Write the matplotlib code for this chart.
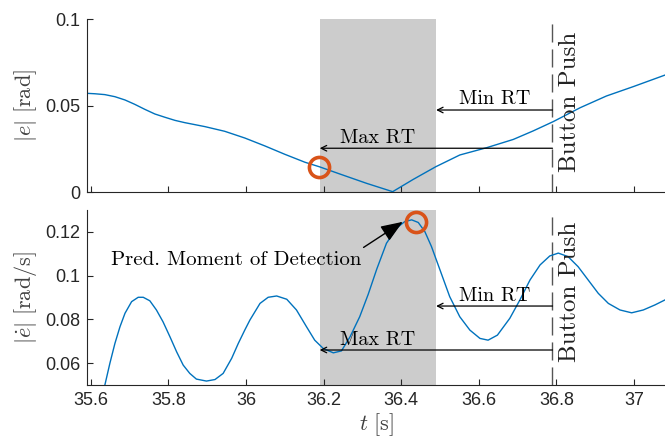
import matplotlib
matplotlib.use("Agg")
import matplotlib.pyplot as plt
from matplotlib.ticker import FuncFormatter

plt.rcParams['mathtext.fontset'] = 'cm'
plt.rcParams['font.family'] = ['Liberation Sans', 'DejaVu Sans']

# |e|
t_e = [35.585, 35.610, 35.636, 35.662, 35.688, 35.713, 35.739, 35.765, 35.791,
       35.817, 35.842, 35.894, 35.945, 35.997, 36.049, 36.100, 36.152, 36.189,
       36.242, 36.311, 36.378, 36.431, 36.489, 36.551, 36.620, 36.689, 36.740,
       36.792, 36.861, 36.929, 36.998, 37.080]
e_abs = [0.0571, 0.0568, 0.0563, 0.0551, 0.0532, 0.0507, 0.0478, 0.0451, 0.0432,
         0.0414, 0.0401, 0.0378, 0.0351, 0.0312, 0.0266, 0.0218, 0.0172, 0.0146,
         0.0104, 0.0050, 0.0002, 0.0073, 0.0146, 0.0214, 0.0256, 0.0304, 0.0353,
         0.0407, 0.0487, 0.0555, 0.0609, 0.0676]

# |e dot|
t_ed = [35.636, 35.649, 35.662, 35.675, 35.688, 35.705, 35.722, 35.735, 35.752,
        35.769, 35.786, 35.804, 35.821, 35.838, 35.855, 35.872, 35.898, 35.920,
        35.941, 35.963, 35.980, 35.997, 36.010, 36.036, 36.057, 36.079, 36.105,
        36.130, 36.156, 36.177, 36.199, 36.225, 36.246, 36.268, 36.293, 36.315,
        36.337, 36.362, 36.388, 36.409, 36.427, 36.444, 36.461, 36.478, 36.500,
        36.525, 36.551, 36.577, 36.603, 36.624, 36.648, 36.680, 36.706, 36.732,
        36.758, 36.783, 36.805, 36.830, 36.856, 36.882, 36.908, 36.934, 36.964,
        36.994, 37.024, 37.054, 37.080]
ed_abs = [0.0499, 0.0599, 0.0690, 0.0766, 0.0828, 0.0881, 0.0901, 0.0901, 0.0885,
          0.0843, 0.0789, 0.0720, 0.0652, 0.0591, 0.0553, 0.0527, 0.0518, 0.0525,
          0.0553, 0.0622, 0.0690, 0.0752, 0.0797, 0.0873, 0.0901, 0.0907, 0.0892,
          0.0843, 0.0766, 0.0705, 0.0667, 0.0647, 0.0656, 0.0720, 0.0812, 0.0915,
          0.1030, 0.1148, 0.1217, 0.1247, 0.1255, 0.1243, 0.1201, 0.1133, 0.1026,
          0.0904, 0.0812, 0.0751, 0.0713, 0.0705, 0.0728, 0.0805, 0.0889, 0.0980,
          0.1049, 0.1090, 0.1103, 0.1087, 0.1041, 0.0980, 0.0919, 0.0873, 0.0843,
          0.0830, 0.0843, 0.0866, 0.0889]

t_push = 36.79
min_rt = 0.3
max_rt = 0.6
t_detect_e, e_detect = 36.189, 0.0146
t_detect_ed, ed_detect = 36.437, 0.1247

blue = '#0072BD'
orange = '#D95319'
dark = '#262626'

fig = plt.figure(figsize=(6.65, 4.4), dpi=100)
ax1 = fig.add_axes([0.1308, 0.5636, 0.8692, 0.3932])
ax2 = fig.add_axes([0.1308, 0.125, 0.8692, 0.3977])

def fmt(v, pos):
  s = ('%.3f' % v).rstrip('0').rstrip('.')
  return s

for ax in (ax1, ax2):
  ax.axvspan(t_push - max_rt, t_push - min_rt, color='#cccccc', lw=0, zorder=0)
  ax.axvline(t_push, color='#555555', lw=1, dashes=(13, 5), zorder=1)
  ax.set_xlim(35.59, 37.08)
  ax.set_xticks([35.6, 35.8, 36, 36.2, 36.4, 36.6, 36.8, 37])
  for s in ('top', 'right'):
    ax.spines[s].set_visible(False)
  for s in ('left', 'bottom'):
    ax.spines[s].set_color(dark)
    ax.spines[s].set_linewidth(0.8)
  ax.tick_params(direction='in', length=4, width=0.8, colors=dark,
                 labelsize=13, pad=5)
  ax.yaxis.set_major_formatter(FuncFormatter(fmt))
  ax.xaxis.set_major_formatter(FuncFormatter(fmt))

# top panel
ax1.plot(t_e, e_abs, color=blue, lw=1, zorder=2)
ax1.plot(t_detect_e, e_detect, 'o', mfc='none', mec=orange, ms=14.5, mew=2.6,
         zorder=3, clip_on=False)
ax1.set_ylim(0, 0.1)
ax1.set_yticks([0, 0.05, 0.1])
ax1.tick_params(labelbottom=False)
ax1.set_ylabel(r'$|e|\ [\mathrm{rad}]$', fontsize=16, color='#404040', labelpad=4)

y_min1, y_max1 = 0.0474, 0.0253
ax1.annotate('', xy=(t_push - min_rt, y_min1), xytext=(t_push, y_min1),
             arrowprops=dict(arrowstyle='->', color='k', lw=0.9, shrinkA=0, shrinkB=0))
ax1.annotate('', xy=(t_push - max_rt, y_max1), xytext=(t_push, y_max1),
             arrowprops=dict(arrowstyle='->', color='k', lw=0.9, shrinkA=0, shrinkB=0))
ax1.text(36.64, y_min1 + 0.001, 'Min RT', family='cmr10', fontsize=14.5,
         ha='center', va='bottom')
ax1.text(36.34, y_max1 + 0.001, 'Max RT', family='cmr10', fontsize=14.5,
         ha='center', va='bottom')
ax1.text(36.835, 0.052, 'Button Push', family='cmr10', fontsize=18,
         rotation=90, ha='center', va='center', color='#222222')

# bottom panel
ax2.plot(t_ed, ed_abs, color=blue, lw=1, zorder=2)
ax2.plot(t_detect_ed, ed_detect, 'o', mfc='none', mec=orange, ms=14.5, mew=2.6,
         zorder=3, clip_on=False)
ax2.set_ylim(0.05, 0.13)
ax2.set_yticks([0.06, 0.08, 0.1, 0.12])
ax2.set_ylabel(r'$|\dot{e}|\ [\mathrm{rad/s}]$', fontsize=16, color='#404040',
               labelpad=4)
ax2.set_xlabel(r'$t\ [\mathrm{s}]$', fontsize=16, color='#404040', labelpad=2)

y_min2, y_max2 = 0.0861, 0.0660
ax2.annotate('', xy=(t_push - min_rt, y_min2), xytext=(t_push, y_min2),
             arrowprops=dict(arrowstyle='->', color='k', lw=0.9, shrinkA=0, shrinkB=0))
ax2.annotate('', xy=(t_push - max_rt, y_max2), xytext=(t_push, y_max2),
             arrowprops=dict(arrowstyle='->', color='k', lw=0.9, shrinkA=0, shrinkB=0))
ax2.text(36.64, y_min2 + 0.0005, 'Min RT', family='cmr10', fontsize=14.5,
         ha='center', va='bottom')
ax2.text(36.34, y_max2 + 0.0005, 'Max RT', family='cmr10', fontsize=14.5,
         ha='center', va='bottom')
ax2.text(36.835, 0.0925, 'Button Push', family='cmr10', fontsize=18,
         rotation=90, ha='center', va='center', color='#222222')

ax2.text(35.652, 0.1072, 'Pred. Moment of Detection', family='cmr10',
         fontsize=15, ha='left', va='center')
ax2.annotate('', xy=(36.404, 0.1246), xytext=(36.303, 0.1129),
             arrowprops=dict(arrowstyle='-|>,head_length=0.9,head_width=0.35',
                             color='k', lw=1, shrinkA=0, shrinkB=0,
                             mutation_scale=15))

fig.savefig('out.png', dpi=100)
